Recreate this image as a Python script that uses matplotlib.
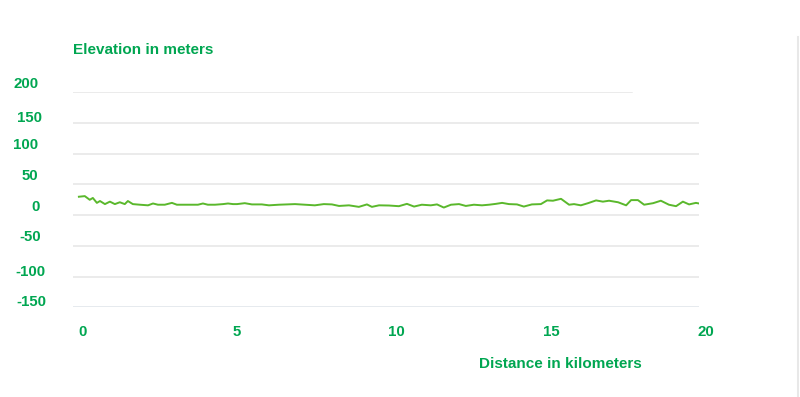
import matplotlib
matplotlib.use("Agg")
import matplotlib.pyplot as plt
import matplotlib.transforms as mtransforms

# ---- data ----
distance_km = [0, 0.19, 0.35, 0.45, 0.58, 0.68, 0.84, 1.0, 1.16, 1.32, 1.48, 1.58, 1.74, 1.97,
               2.23, 2.39, 2.55, 2.77, 3.0, 3.16, 3.42, 3.84, 4.0, 4.16, 4.39, 4.65, 4.81, 4.97,
               5.1, 5.35, 5.58, 5.9, 6.13, 6.45, 6.71, 6.97, 7.29, 7.61, 7.9, 8.16, 8.39, 8.71,
               9.03, 9.29, 9.45, 9.68, 10.0, 10.32, 10.58, 10.81, 11.06, 11.35, 11.55, 11.77,
               12.0, 12.26, 12.48, 12.74, 13.0, 13.23, 13.45, 13.65, 13.87, 14.13, 14.35, 14.61,
               14.9, 15.1, 15.29, 15.55, 15.81, 15.97, 16.19, 16.42, 16.68, 16.9, 17.1, 17.39,
               17.65, 17.81, 18.03, 18.23, 18.52, 18.77, 19.03, 19.26, 19.48, 19.68, 19.9, 20.0]
elevation_m = [30, 31, 25, 28, 20, 23, 18, 22, 18, 21, 18, 23, 18, 17,
               16, 19, 17, 17, 20, 17, 17, 17, 19, 17, 17, 18, 19, 18,
               18, 19.5, 17.5, 17.5, 16, 17, 17.5, 18, 17, 16, 18, 17.5, 15, 16,
               13.5, 17.5, 13.5, 16, 15.7, 14.6, 18.4, 14, 17, 16, 17.5, 12.4,
               17, 18, 15, 17, 16, 17, 18.4, 20, 18, 17.5, 14, 17.5,
               18, 24, 23.5, 26.6, 17, 18, 16, 19.5, 24, 22, 23.5, 21,
               16, 24.5, 24.5, 17, 19.5, 23.5, 17, 14.6, 22, 17.5, 20, 19]
y_ticks = [200, 150, 100, 50, 0, -50, -100, -150]
y_tick_labels = ["200", "150", "100", "50", "0", "-50", "-100", "-150"]
x_ticks = [0, 5, 10, 15, 20]
x_tick_labels = ["0", "5", "10", "15", "20"]

# ---- style / layout ----
GREEN_TEXT = "#00a651"
LINE_GREEN = "#5ab82c"
GRID = "#e6e6e6"
W, H = 800, 397
# per-label layout (pixels): right edge x, upward offset from gridline
ylab_right_px = [39, 41.5, 38.5, 38.5, 40, 41, 45.5, 46.5]
ylab_up_px = [9.6, 6.4, 10.7, 10.3, 9.3, 10.0, 6.0, 6.3]

plt.rcParams['font.family'] = ['Liberation Sans', 'DejaVu Sans']
fig = plt.figure(figsize=(W / 100, H / 100), dpi=100)
ax = fig.add_axes([73 / W, 1 - 307.3 / H, (699 - 73) / W, (307.3 - 92.3) / H])
ax.set_xlim(-0.19, 20)
ax.set_ylim(-150, 200)

for spine in ax.spines.values():
    spine.set_visible(False)

# gridlines
for i, v in enumerate(y_ticks):
    if i == 0:
        ax.axhline(v, xmin=0, xmax=(632 - 73) / (699 - 73), color=GRID, lw=1.1, zorder=1)
    elif v == y_ticks[-1]:
        ax.axhline(v, color="#dfe4ea", lw=1.1, zorder=1)
    else:
        ax.axhline(v, color=GRID, lw=1.1, zorder=1)

ax.plot(distance_km, elevation_m, color=LINE_GREEN, lw=1.4, zorder=3)

# y labels
ax.set_yticks([])
for v, lab, xr, up in zip(y_ticks, y_tick_labels, ylab_right_px, ylab_up_px):
    tr = mtransforms.blended_transform_factory(fig.transFigure, ax.transData)
    tr = tr + mtransforms.ScaledTranslation(0, up / 100, fig.dpi_scale_trans)
    ax.text(xr / W, v, lab, transform=tr, ha="right", va="center_baseline",
            color=GREEN_TEXT, fontsize=10.8, fontweight="bold", clip_on=False)

# x labels
ax.set_xticks(x_ticks)
ax.set_xticklabels(x_tick_labels, ha="left", color=GREEN_TEXT, fontsize=10.8, fontweight="bold")
ax.tick_params(axis="x", length=0, pad=12.5)
for lbl in ax.get_xticklabels():
    lbl.set_transform(lbl.get_transform() + mtransforms.ScaledTranslation(-1 / 100, 0, fig.dpi_scale_trans))

fig.text(73 / W, 1 - 48 / H, "Elevation in meters", ha="left", va="center_baseline",
         color=GREEN_TEXT, fontsize=11, fontweight="bold")
fig.text(560.5 / W, 1 - 363 / H, "Distance in kilometers", ha="center", va="center_baseline",
         color=GREEN_TEXT, fontsize=11, fontweight="bold")

# right border line
fig.add_artist(plt.Line2D([797.5 / W, 797.5 / W], [0, 1 - 37 / H], transform=fig.transFigure,
                          color="#e8e8e8", lw=1.5))

fig.savefig("out.png", dpi=100)
